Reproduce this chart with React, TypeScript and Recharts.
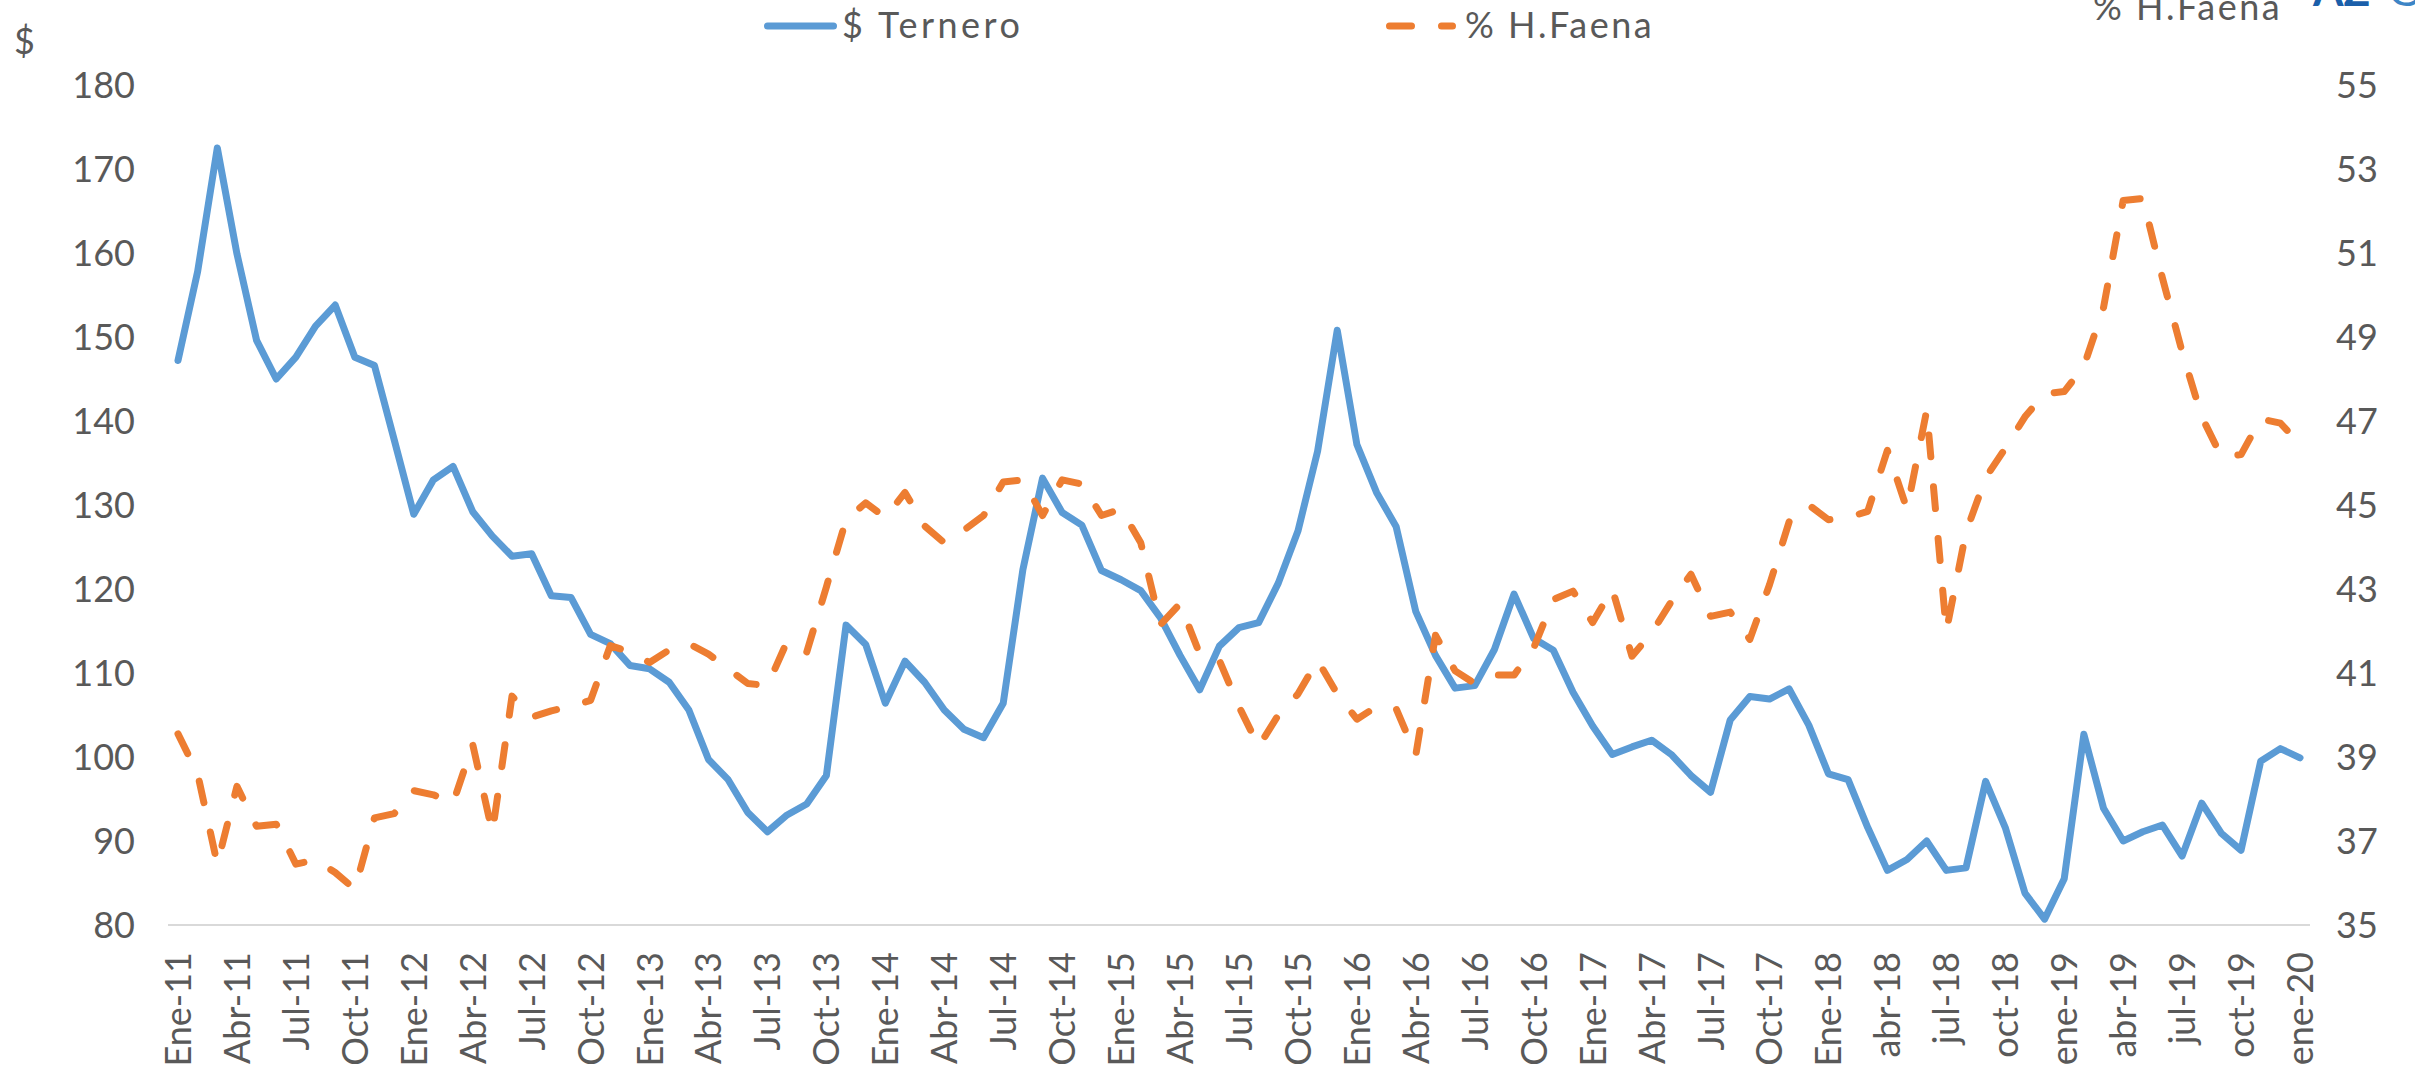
import React from 'react';
import { LineChart, Line, XAxis, YAxis } from 'recharts';

const months: string[] = [
  'Ene-11','Feb-11','Mar-11','Abr-11','May-11','Jun-11','Jul-11','Ago-11','Sep-11','Oct-11','Nov-11','Dic-11',
  'Ene-12','Feb-12','Mar-12','Abr-12','May-12','Jun-12','Jul-12','Ago-12','Sep-12','Oct-12','Nov-12','Dic-12',
  'Ene-13','Feb-13','Mar-13','Abr-13','May-13','Jun-13','Jul-13','Ago-13','Sep-13','Oct-13','Nov-13','Dic-13',
  'Ene-14','Feb-14','Mar-14','Abr-14','May-14','Jun-14','Jul-14','Ago-14','Sep-14','Oct-14','Nov-14','Dic-14',
  'Ene-15','Feb-15','Mar-15','Abr-15','May-15','Jun-15','Jul-15','Ago-15','Sep-15','Oct-15','Nov-15','Dic-15',
  'Ene-16','Feb-16','Mar-16','Abr-16','May-16','Jun-16','Jul-16','Ago-16','Sep-16','Oct-16','Nov-16','Dic-16',
  'Ene-17','Feb-17','Mar-17','Abr-17','May-17','Jun-17','Jul-17','Ago-17','Sep-17','Oct-17','Nov-17','Dic-17',
  'Ene-18','feb-18','mar-18','abr-18','may-18','jun-18','jul-18','ago-18','sep-18','oct-18','nov-18','dic-18',
  'ene-19','feb-19','mar-19','abr-19','may-19','jun-19','jul-19','ago-19','sep-19','oct-19','nov-19','dic-19',
  'ene-20',
];

const ternero: number[] = [
  147.2, 157.8, 172.5, 159.9, 149.6, 145.0, 147.6, 151.3, 153.8, 147.6, 146.6, 137.8,
  128.9, 133.0, 134.6, 129.2, 126.3, 123.9, 124.2, 119.2, 119.0, 114.6, 113.5, 110.9,
  110.5, 108.9, 105.6, 99.7, 97.3, 93.4, 91.1, 93.1, 94.4, 97.8, 115.7, 113.4,
  106.4, 111.4, 108.9, 105.6, 103.3, 102.3, 106.4, 122.3, 133.2, 129.1, 127.6, 122.2,
  121.1, 119.8, 116.6, 112.1, 108.0, 113.2, 115.4, 116.0, 120.7, 126.9, 136.4, 150.8,
  137.2, 131.5, 127.4, 117.3, 112.1, 108.2, 108.5, 112.8, 119.4, 114.1, 112.7, 107.7,
  103.7, 100.3, 101.2, 102.0, 100.3, 97.8, 95.8, 104.4, 107.2, 106.9, 108.1, 103.8,
  98.0, 97.3, 91.6, 86.5, 87.8, 90.0, 86.5, 86.8, 97.1, 91.6, 83.8, 80.7,
  85.5, 102.7, 93.9, 90.0, 91.1, 91.9, 88.2, 94.5, 90.9, 88.9, 99.5, 101.0,
  99.9,
];

const faena: number[] = [
  39.55, 38.6, 36.45, 38.3, 37.35, 37.4, 36.45, 36.55, 36.25, 35.85, 37.55, 37.65,
  38.2, 38.1, 37.9, 39.3, 37.2, 40.45, 39.95, 40.1, 40.2, 40.35, 41.65, 41.5,
  41.25, 41.55, 41.7, 41.45, 41.1, 40.75, 40.7, 41.75, 41.5, 43.05, 44.65, 45.05,
  44.7, 45.3, 44.5, 44.1, 44.4, 44.75, 45.55, 45.6, 44.75, 45.6, 45.5, 44.75,
  44.9, 44.1, 42.15, 42.65, 41.45, 41.3, 40.2, 39.25, 40.0, 40.5, 41.3, 40.5,
  39.9, 40.2, 40.15, 39.05, 41.9, 41.05, 40.75, 40.95, 40.95, 41.6, 42.75, 42.95,
  42.2, 43.0, 41.4, 41.95, 42.7, 43.35, 42.35, 42.45, 41.8, 43.1, 44.6, 45.0,
  44.65, 44.7, 44.85, 46.3, 44.9, 47.25, 42.0, 44.35, 45.65, 46.35, 47.1, 47.65,
  47.7, 48.3, 49.7, 52.25, 52.3, 50.4, 48.65, 47.1, 46.15, 46.2, 47.05, 46.95,
  46.45,
];

const leftTicks: number[] = [80, 90, 100, 110, 120, 130, 140, 150, 160, 170, 180];
const rightTicks: number[] = [35, 37, 39, 41, 43, 45, 47, 49, 51, 53, 55];

const seriesNames = { ternero: '$ Ternero', faena: '% H.Faena' };
const leftAxisTitle = '$';
const rightAxisTitle = '% H.Faena';

const data = months.map((m, i) => ({ month: m, ternero: ternero[i], faena: faena[i] }));

const FONT = 'Lato, "Open Sans", sans-serif';
const GRAY = '#595959';
const BLUE = '#5B9BD5';
const ORANGE = '#ED7D31';

const XTick = (props: any) => {
  const { x, y, payload } = props;
  return (
    <g transform={`translate(${x},${y + 27})`}>
      <text
        x={0}
        y={0}
        dy="0.36em"
        textAnchor="end"
        transform="rotate(-90)"
        fill={GRAY}
        fontSize={36}
        fontFamily={FONT}
      >
        {payload.value}
      </text>
    </g>
  );
};

export default function App() {
  return (
    <div style={{ position: 'absolute', left: 0, top: 0, width: 2415, height: 1080, background: '#fff', overflow: 'hidden' }}>
      <LineChart width={2415} height={1080} data={data} margin={{ top: 85, right: 0, bottom: 0, left: 0 }}>
        <XAxis
          dataKey="month"
          interval={2}
          height={155}
          padding={{ left: 10, right: 10 }}
          axisLine={{ stroke: '#D9D9D9', strokeWidth: 2 }}
          tickLine={false}
          tickSize={0}
          tickMargin={0}
          tick={<XTick />}
        />
        <YAxis
          yAxisId="left"
          orientation="left"
          width={168}
          domain={[80, 180]}
          ticks={leftTicks}
          axisLine={false}
          tickLine={false}
          tickSize={0}
          tickMargin={33}
          tick={{ fill: GRAY, fontSize: 36, fontFamily: FONT }}
        />
        <YAxis
          yAxisId="right"
          orientation="right"
          width={105}
          domain={[35, 55]}
          ticks={rightTicks}
          axisLine={false}
          tickLine={false}
          tickSize={0}
          tickMargin={26}
          tick={{ fill: GRAY, fontSize: 36, fontFamily: FONT }}
        />
        <Line
          yAxisId="left"
          dataKey="ternero"
          name={seriesNames.ternero}
          stroke={BLUE}
          strokeWidth={7}
          strokeLinejoin="round"
          strokeLinecap="round"
          dot={false}
          activeDot={false}
          isAnimationActive={false}
        />
        <Line
          yAxisId="right"
          dataKey="faena"
          name={seriesNames.faena}
          stroke={ORANGE}
          strokeWidth={7}
          strokeDasharray="22 30"
          strokeLinejoin="round"
          strokeLinecap="round"
          dot={false}
          activeDot={false}
          isAnimationActive={false}
        />
      </LineChart>
      <svg width={2415} height={1080} style={{ position: 'absolute', left: 0, top: 0, pointerEvents: 'none' }}>
        <text x={14} y={54} fill={GRAY} fontSize={36} fontFamily={FONT}>{leftAxisTitle}</text>
        <text x={2093} y={20} fill={GRAY} fontSize={36} fontFamily={FONT} letterSpacing={2.5}>{rightAxisTitle}</text>
        <text x={2313} y={6} fill="#1B5FAA" fontSize={44} fontWeight={700} fontFamily={FONT}>AZ</text>
        <text x={2388} y={6} fill="#3D85C6" fontSize={44} fontFamily={FONT}>G</text>
        <line x1={767.5} y1={26} x2={833.5} y2={26} stroke={BLUE} strokeWidth={7} strokeLinecap="round" />
        <text x={842} y={38} fill={GRAY} fontSize={36} fontFamily={FONT} letterSpacing={3.5}>{seriesNames.ternero}</text>
        <line x1={1389.5} y1={26} x2={1452.5} y2={26} stroke={ORANGE} strokeWidth={7} strokeLinecap="round" strokeDasharray="22 30" />
        <text x={1465} y={38} fill={GRAY} fontSize={36} fontFamily={FONT} letterSpacing={2.5}>{seriesNames.faena}</text>
      </svg>
    </div>
  );
}
